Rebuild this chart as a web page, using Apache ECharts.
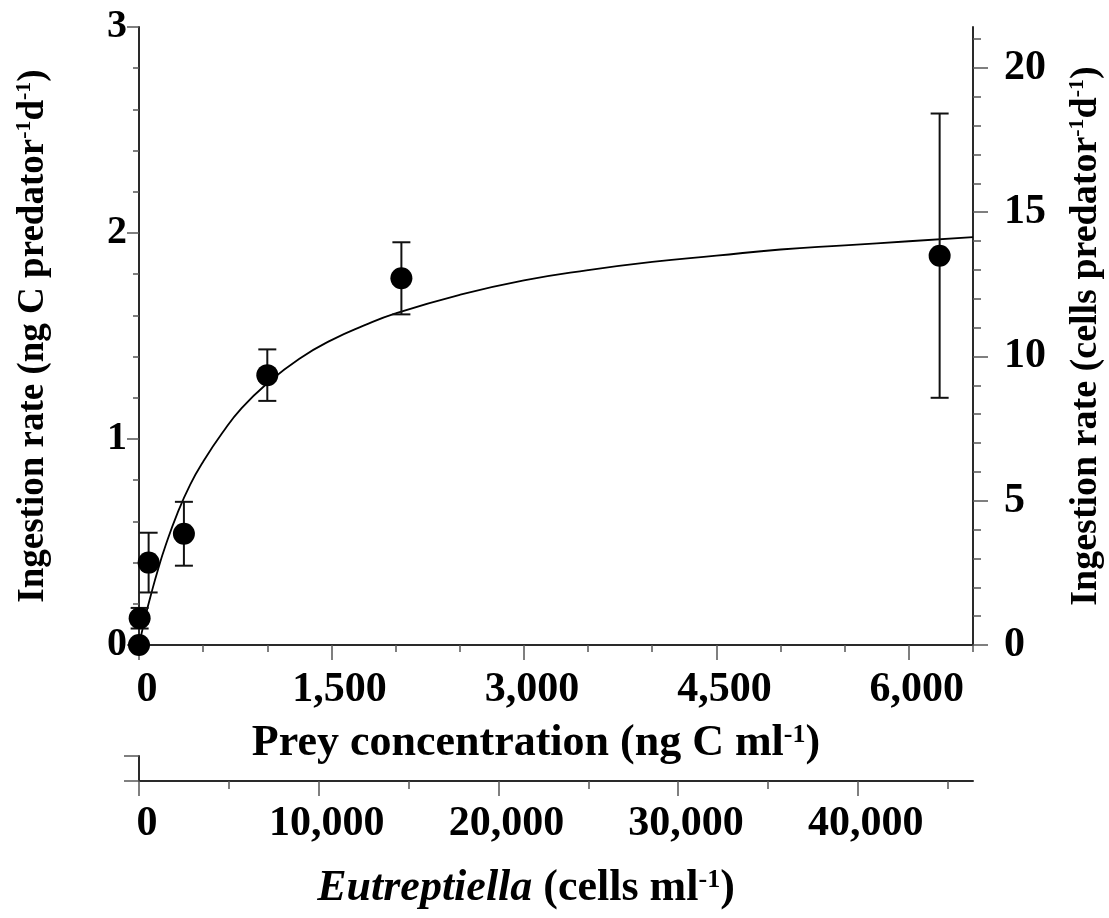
<!DOCTYPE html>
<html>
<head>
<meta charset="utf-8">
<title>Ingestion rate vs prey concentration</title>
<script src="https://cdn.jsdelivr.net/npm/echarts@6/dist/echarts.min.js"></script>
<style>
  html, body { margin: 0; padding: 0; background: #fff; }
  #chart { width: 1109px; height: 918px; }
</style>
</head>
<body>
<div id="chart"></div>
<script>
// Measured ingestion (ng C predator^-1 d^-1) at each prey concentration (ng C ml^-1)
const preyCarbon = [0, 5, 75, 350, 1000, 2045, 6240];
const ingestion = [0, 0.13, 0.40, 0.54, 1.31, 1.78, 1.89];
const ingestionErr = [0, 0.05, 0.145, 0.155, 0.125, 0.175, 0.69];

// Fitted saturation curve, sampled along the prey axis
const fitPrey = [0, 25, 50, 100, 150, 200, 300, 400, 500, 650, 800, 1000, 1250, 1500, 1750, 2000, 2500, 3000, 3500, 4000, 4500, 5000, 5500, 6000, 6500];
const fitIngestion = [0, 0.07, 0.14, 0.26, 0.37, 0.47, 0.64, 0.78, 0.89, 1.03, 1.15, 1.27, 1.39, 1.48, 1.55, 1.61, 1.70, 1.77, 1.82, 1.86, 1.89, 1.92, 1.94, 1.96, 1.98];

// Carbon content conversion: cells per ng C
const cellsPerNgC = 7.14;

// Axis ranges and tick values
const carbonMax = 6500;
const rateMax = 3;
const carbonTicks = [0, 1500, 3000, 4500, 6000];
const carbonMinorTicks = [500, 1000, 2000, 2500, 3500, 4000, 5000, 5500, 6500];
const cellTicks = [0, 10000, 20000, 30000, 40000];
const cellMinorTicks = [5000, 15000, 25000, 35000, 45000];
const cellRateTicks = [0, 5, 10, 15, 20];
const cellRateMinorTicks = [1, 2, 3, 4, 6, 7, 8, 9, 11, 12, 13, 14, 16, 17, 18, 19, 21];

const FONT = "'Liberation Serif', 'Times New Roman', serif";
const AXIS_COLOR = '#2a2a2a';
const TICK_COLOR = '#555';

function thousands(v) {
  return String(Math.round(v)).replace(/\B(?=(\d{3})+(?!\d))/g, ',');
}

const labelStyle = (size, margin) => ({
  fontFamily: FONT, fontWeight: 'bold', fontSize: size, color: '#000', margin: margin
});

const supRich = (size) => ({
  s: { fontFamily: FONT, fontWeight: 'bold', fontSize: size, color: '#000', verticalAlign: 'top', lineHeight: 40 },
  i: { fontFamily: FONT, fontWeight: 'bold', fontStyle: 'italic', fontSize: 44, color: '#000', lineHeight: 44 }
});

const errorData = preyCarbon.map((x, i) => [x, ingestion[i], ingestionErr[i]]);
const pointData = preyCarbon.map((x, i) => [x, ingestion[i]]);
const fitData = fitPrey.map((x, i) => [x, fitIngestion[i]]);

const chart = echarts.init(document.getElementById('chart'), null, { renderer: 'canvas' });

chart.setOption({
  backgroundColor: '#fff',
  animation: false,
  grid: [
    { left: 139, top: 27, width: 834, height: 618, containLabel: false, outerBoundsMode: 'none' },
    { left: 139, top: 756, width: 834, height: 25, containLabel: false, outerBoundsMode: 'none' }
  ],
  xAxis: [
    {
      type: 'value', gridIndex: 0, position: 'bottom', min: 0, max: carbonMax,
      axisLine: { show: true, onZero: false, lineStyle: { color: AXIS_COLOR, width: 2 } },
      axisTick: { show: true, customValues: carbonTicks, length: 15, lineStyle: { color: TICK_COLOR, width: 1.5 } },
      axisLabel: Object.assign({ customValues: carbonTicks, formatter: thousands, padding: [0, 0, 0, 16] }, labelStyle(42, 24)),
      splitLine: { show: false },
      name: 'Prey concentration (ng C ml{s|-1})',
      nameLocation: 'middle', nameGap: 77,
      nameTextStyle: { fontFamily: FONT, fontWeight: 'bold', fontSize: 44, color: '#000', lineHeight: 44, padding: [0, 40, 0, 0], rich: supRich(26) }
    },
    {
      type: 'value', gridIndex: 0, position: 'bottom', min: 0, max: carbonMax,
      axisLine: { show: false, onZero: false },
      axisTick: { show: true, customValues: carbonMinorTicks, length: 7, lineStyle: { color: TICK_COLOR, width: 1.5 } },
      axisLabel: { show: false },
      splitLine: { show: false }
    },
    {
      type: 'value', gridIndex: 1, position: 'bottom', min: 0, max: carbonMax * cellsPerNgC,
      axisLine: { show: true, onZero: false, lineStyle: { color: AXIS_COLOR, width: 2 } },
      axisTick: { show: true, customValues: cellTicks, length: 15, lineStyle: { color: TICK_COLOR, width: 1.5 } },
      axisLabel: Object.assign({ customValues: cellTicks, formatter: thousands, padding: [0, 0, 0, 16] }, labelStyle(42, 22)),
      splitLine: { show: false },
      name: '{i|Eutreptiella} (cells ml{s|-1})',
      nameLocation: 'middle', nameGap: 86,
      nameTextStyle: { fontFamily: FONT, fontWeight: 'bold', fontSize: 44, color: '#000', lineHeight: 44, padding: [0, 60, 0, 0], rich: supRich(26) }
    },
    {
      type: 'value', gridIndex: 1, position: 'bottom', min: 0, max: carbonMax * cellsPerNgC,
      axisLine: { show: false, onZero: false },
      axisTick: { show: true, customValues: cellMinorTicks, length: 8, lineStyle: { color: TICK_COLOR, width: 1.5 } },
      axisLabel: { show: false },
      splitLine: { show: false }
    }
  ],
  yAxis: [
    {
      type: 'value', gridIndex: 0, position: 'left', min: 0, max: rateMax, interval: 1,
      axisLine: { show: true, onZero: false, lineStyle: { color: AXIS_COLOR, width: 2 } },
      axisTick: { show: true, length: 12, lineStyle: { color: TICK_COLOR, width: 1.5 } },
      minorTick: { show: true, splitNumber: 5, length: 6, lineStyle: { color: TICK_COLOR, width: 1.5 } },
      axisLabel: labelStyle(40, 12),
      splitLine: { show: false },
      name: 'Ingestion rate (ng C predator{s|-1}d{s|-1})',
      nameLocation: 'middle', nameRotate: 90, nameGap: 86,
      nameTextStyle: { fontFamily: FONT, fontWeight: 'bold', fontSize: 37, color: '#000', lineHeight: 40, rich: supRich(22) }
    },
    {
      type: 'value', gridIndex: 0, position: 'right', min: 0, max: rateMax * cellsPerNgC,
      axisLine: { show: true, onZero: false, lineStyle: { color: AXIS_COLOR, width: 2 } },
      axisTick: { show: true, customValues: cellRateTicks, length: 15, lineStyle: { color: TICK_COLOR, width: 1.5 } },
      axisLabel: Object.assign({ customValues: cellRateTicks }, labelStyle(42, 31)),
      splitLine: { show: false },
      name: 'Ingestion rate (cells predator{s|-1}d{s|-1})',
      nameLocation: 'middle', nameRotate: 90, nameGap: 93,
      nameTextStyle: { fontFamily: FONT, fontWeight: 'bold', fontSize: 38, color: '#000', lineHeight: 40, rich: supRich(22) }
    },
    {
      type: 'value', gridIndex: 0, position: 'right', min: 0, max: rateMax * cellsPerNgC,
      axisLine: { show: false, onZero: false },
      axisTick: { show: true, customValues: cellRateMinorTicks, length: 8, lineStyle: { color: TICK_COLOR, width: 1.5 } },
      axisLabel: { show: false },
      splitLine: { show: false }
    },
    {
      type: 'value', gridIndex: 1, position: 'left', min: 0, max: 1, interval: 1,
      axisLine: { show: true, onZero: false, lineStyle: { color: AXIS_COLOR, width: 2 } },
      axisTick: { show: true, length: 15, lineStyle: { color: TICK_COLOR, width: 1.5 } },
      axisLabel: { show: false },
      splitLine: { show: false }
    }
  ],
  series: [
    {
      name: 'fit', type: 'line', xAxisIndex: 0, yAxisIndex: 0,
      data: fitData, smooth: true, showSymbol: false, symbol: 'none',
      lineStyle: { color: '#000', width: 1.8 }, z: 3, silent: true
    },
    {
      name: 'error', type: 'custom', xAxisIndex: 0, yAxisIndex: 0,
      data: errorData, z: 4, silent: true,
      renderItem: function (params, api) {
        const x = api.value(0), y = api.value(1), e = api.value(2);
        if (!e) return { type: 'group', children: [] };
        const top = api.coord([x, y + e]);
        const bot = api.coord([x, y - e]);
        const half = 9;
        const style = { stroke: '#111', lineWidth: 2 };
        return {
          type: 'group',
          children: [
            { type: 'line', shape: { x1: top[0], y1: top[1], x2: bot[0], y2: bot[1] }, style: style },
            { type: 'line', shape: { x1: top[0] - half, y1: top[1], x2: top[0] + half, y2: top[1] }, style: style },
            { type: 'line', shape: { x1: bot[0] - half, y1: bot[1], x2: bot[0] + half, y2: bot[1] }, style: style }
          ]
        };
      }
    },
    {
      name: 'measured', type: 'scatter', xAxisIndex: 0, yAxisIndex: 0,
      data: pointData, symbol: 'circle', symbolSize: 22,
      itemStyle: { color: '#000', opacity: 1 }, z: 5, silent: true
    }
  ]
});
</script>
</body>
</html>
